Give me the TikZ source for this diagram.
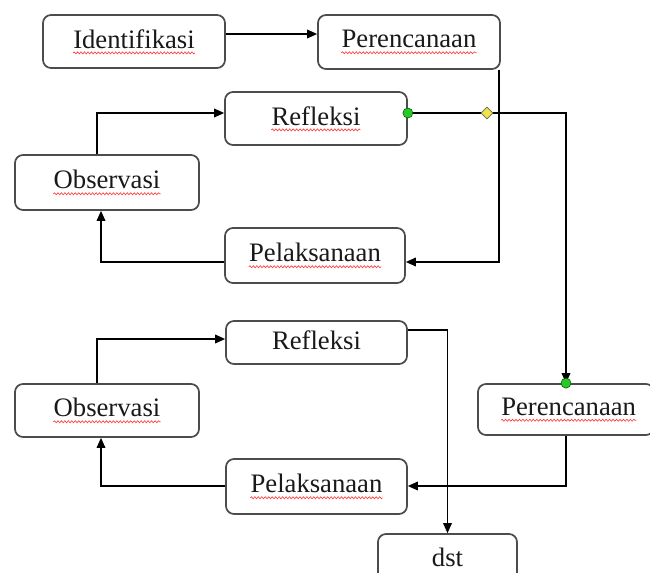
\documentclass[tikz,border=0pt]{standalone}
\usepackage{fontspec}
\setmainfont{Liberation Serif}
\usetikzlibrary{arrows.meta,shapes.geometric,decorations.pathmorphing}
\tikzset{
  stbox/.style={draw=black!70, line width=1.3pt, rounded corners=6pt, fill=white, inner sep=0pt},
  lbl/.style={inner sep=0pt, font=\fontsize{20pt}{24pt}\selectfont, text=black!90},
  arr/.style={draw=black, line width=1pt, -{Triangle[length=7.5pt,width=6.5pt]}},
  wavy/.style={draw=red!75, line width=0.5pt, decorate, decoration={snake, segment length=2.6pt, amplitude=0.75pt}},
  gdot/.style={circle, draw=green!35!black, line width=0.4pt, fill={rgb,255:red,40;green,200;blue,40}, minimum size=7.5pt, inner sep=0pt},
  ydia/.style={diamond, draw=black!60, line width=0.5pt, fill={rgb,255:red,240;green,228;blue,70}, minimum size=9pt, inner sep=0pt}
}
\begin{document}
\begin{tikzpicture}[x=0.75pt,y=-0.75pt]
\useasboundingbox (0,0) rectangle (650,573);
\clip (0,0) rectangle (650,573);
\fill[white] (0,0) rectangle (650,573);
% level coordinates
\coordinate (y1) at (0,34);
\coordinate (y2) at (0,113);
\coordinate (y3) at (0,262);
\coordinate (y4) at (0,339);
\coordinate (y5) at (0,330);
\coordinate (y6) at (0,486);
\coordinate (x1) at (97,0);
\coordinate (x2) at (101,0);
\coordinate (x3) at (499,0);
% boxes
\node[stbox, minimum width=136.5pt, minimum height=39.75pt] (ident) at (134,41.5) {};
\node[stbox, minimum width=136.5pt, minimum height=40.5pt] (per1) at (409,42) {};
\node[stbox, minimum width=136.5pt, minimum height=39.75pt] (ref1) at (316,118.5) {};
\node[stbox, minimum width=138pt, minimum height=41.25pt] (obs1) at (107,182.5) {};
\node[stbox, minimum width=135pt, minimum height=41.25pt] (pel1) at (315,255.5) {};
\node[stbox, minimum width=135.75pt, minimum height=32.25pt] (ref2) at (316.5,342.5) {};
\node[stbox, minimum width=138pt, minimum height=39.75pt] (obs2) at (107,410.5) {};
\node[stbox, minimum width=132pt, minimum height=38.25pt] (per2) at (566,409.5) {};
\node[stbox, minimum width=135.75pt, minimum height=41.25pt] (pel2) at (316.5,486.5) {};
\node[stbox, minimum width=104.25pt, minimum height=39pt] (dst) at (447.5,560) {};
% labels
\node[lbl, yshift=2pt] (identt) at (ident) {Identifikasi};
\node[lbl, yshift=2pt] (per1t) at (per1) {Perencanaan};
\node[lbl, yshift=2pt] (ref1t) at (ref1) {Refleksi};
\node[lbl, yshift=2pt] (obs1t) at (obs1) {Observasi};
\node[lbl, yshift=2pt] (pel1t) at (pel1) {Pelaksanaan};
\node[lbl, yshift=2pt] (ref2t) at (ref2) {Refleksi};
\node[lbl, yshift=2pt] (obs2t) at (obs2) {Observasi};
\node[lbl, yshift=2pt] (per2t) at ([xshift=2pt]per2) {Perencanaan};
\node[lbl, yshift=2pt] (pel2t) at (pel2) {Pelaksanaan};
\node[lbl, yshift=2pt] (dstt) at (dst) {dst};
% spell-check underlines
\foreach \t in {identt,per1t,ref1t,obs1t,pel1t,obs2t,per2t,pel2t}{
  \draw[wavy] ([yshift=-3.6pt]\t.base west) -- ([yshift=-3.6pt]\t.base east);
}
% connectors
\draw[arr] (ident.east |- y1) -- (per1.west |- y1);
\draw[arr] (x3 |- per1.south) |- (pel1.east |- y3);
\draw[arr] (pel1.west |- y3) -| (x2 |- obs1.south);
\draw[arr] (x1 |- obs1.north) |- (ref1.west |- y2);
\draw[arr] (ref1.east |- y2) -| (per2.north);
\draw[arr] (per2.south) |- (pel2.east |- y6);
\draw[arr] (pel2.west |- y6) -| (x2 |- obs2.south);
\draw[arr] (x1 |- obs2.north) |- (ref2.west |- y4);
\draw[arr] (ref2.east |- y5) -| (dst.north);
% handles
\node[gdot] (g1) at (ref1.east |- y2) {};
\node[gdot] (g2) at (per2.north) {};
\node[ydia] (d1) at (487,113) {};
\end{tikzpicture}
\end{document}
